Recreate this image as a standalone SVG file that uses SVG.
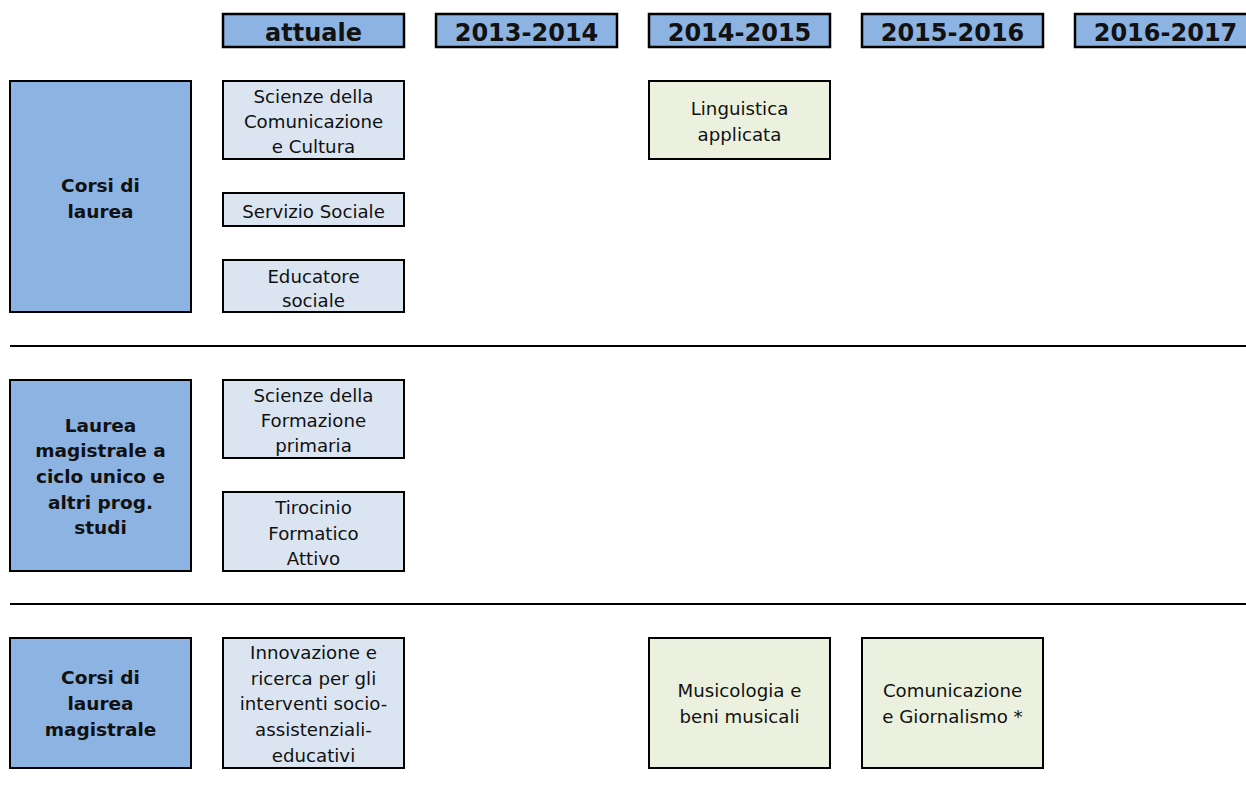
<svg xmlns="http://www.w3.org/2000/svg" width="1246" height="793" viewBox="0 0 1246 793">
<style>
text{font-family:"DejaVu Sans",sans-serif;fill:#111;text-anchor:middle;font-size:18.2px}
.hd rect{fill:#8DB3E2;stroke:#000;stroke-width:2.5}
.hd text{font-size:24px;font-weight:bold}
.cat rect{fill:#8DB3E2;stroke:#000;stroke-width:2}
.cat text{font-weight:bold;font-size:18.5px}
.cur rect{fill:#DBE5F1;stroke:#000;stroke-width:2}
.new rect{fill:#EBF1DE;stroke:#000;stroke-width:2}
.sep line{stroke:#000;stroke-width:2}
</style>
<g id="h-attuale" class="hd"><rect x="223" y="14" width="181" height="33"/><text x="313.5" y="40.5">attuale</text></g>
<g id="h-2013" class="hd"><rect x="436" y="14" width="181" height="33"/><text x="526.5" y="40.5">2013-2014</text></g>
<g id="h-2014" class="hd"><rect x="649" y="14" width="181" height="33"/><text x="739.5" y="40.5">2014-2015</text></g>
<g id="h-2015" class="hd"><rect x="862" y="14" width="181" height="33"/><text x="952.5" y="40.5">2015-2016</text></g>
<g id="h-2016" class="hd"><rect x="1075" y="14" width="181" height="33"/><text x="1165.5" y="40.5">2016-2017</text></g>

<g id="cat-laurea" class="cat"><rect x="10" y="81" width="181" height="231"/><text x="100.5" y="192">Corsi di</text><text x="100.5" y="217.5">laurea</text></g>
<g id="cat-ciclo" class="cat"><rect x="10" y="380" width="181" height="191"/><text x="100.5" y="431.5">Laurea</text><text x="100.5" y="457.2">magistrale a</text><text x="100.5" y="482.9">ciclo unico e</text><text x="100.5" y="508.6">altri prog.</text><text x="100.5" y="534.3">studi</text></g>
<g id="cat-magistrale" class="cat"><rect x="10" y="638" width="181" height="130"/><text x="100.5" y="684">Corsi di</text><text x="100.5" y="710">laurea</text><text x="100.5" y="736">magistrale</text></g>

<g id="n-scc" class="cur"><rect x="223" y="81" width="181" height="78"/><text x="313.5" y="103.3">Scienze della</text><text x="313.5" y="128.3">Comunicazione</text><text x="313.5" y="153.3">e Cultura</text></g>
<g id="n-ss" class="cur"><rect x="223" y="193" width="181" height="33"/><text x="313.5" y="218">Servizio Sociale</text></g>
<g id="n-es" class="cur"><rect x="223" y="260" width="181" height="52"/><text x="313.5" y="283.3">Educatore</text><text x="313.5" y="307.3">sociale</text></g>
<g id="n-sfp" class="cur"><rect x="223" y="380" width="181" height="78"/><text x="313.5" y="401.7">Scienze della</text><text x="313.5" y="427.2">Formazione</text><text x="313.5" y="452.2">primaria</text></g>
<g id="n-tfa" class="cur"><rect x="223" y="492" width="181" height="79"/><text x="313.5" y="514">Tirocinio</text><text x="313.5" y="539.7">Formatico</text><text x="313.5" y="565.4">Attivo</text></g>
<g id="n-irisa" class="cur"><rect x="223" y="638" width="181" height="130"/><text x="313.5" y="659">Innovazione e</text><text x="313.5" y="684.7">ricerca per gli</text><text x="313.5" y="710.4">interventi socio-</text><text x="313.5" y="736.1">assistenziali-</text><text x="313.5" y="761.8">educativi</text></g>

<g id="n-ling" class="new"><rect x="649" y="81" width="181" height="78"/><text x="739.5" y="115">Linguistica</text><text x="739.5" y="140.7">applicata</text></g>
<g id="n-musico" class="new"><rect x="649" y="638" width="181" height="130"/><text x="739.5" y="697.3">Musicologia e</text><text x="739.5" y="722.7">beni musicali</text></g>
<g id="n-comgio" class="new"><rect x="862" y="638" width="181" height="130"/><text x="952.5" y="697.3">Comunicazione</text><text x="952.5" y="722.7">e Giornalismo *</text></g>

<g id="connectors" class="sep"><line x1="10" y1="346" x2="1246" y2="346"/><line x1="10" y1="604" x2="1246" y2="604"/></g>
</svg>
